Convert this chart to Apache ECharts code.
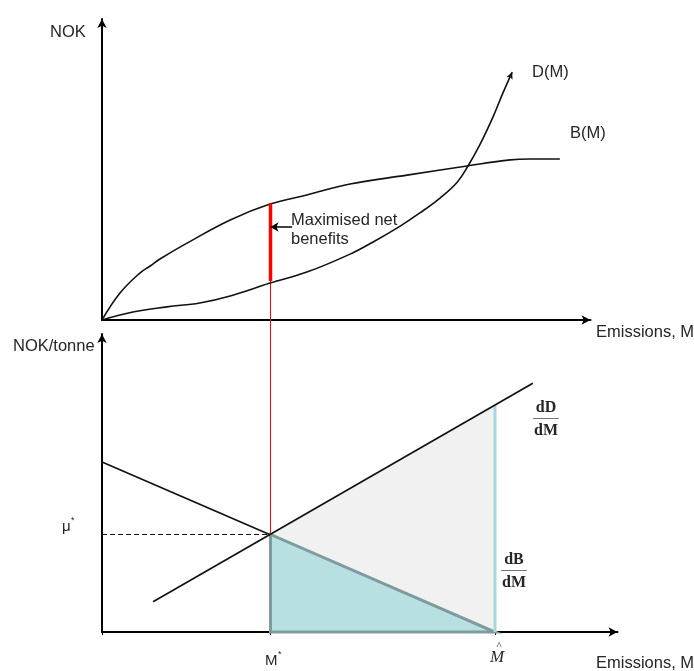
<!DOCTYPE html>
<html>
<head>
<meta charset="utf-8">
<script src="https://cdn.jsdelivr.net/npm/echarts@6/dist/echarts.min.js"></script>
<style>html,body{margin:0;padding:0;background:#fff;}#c{width:694px;height:671px;}</style>
</head>
<body>
<div id="c"></div>
<script>
// ---- data (x: emissions units, y: NOK units) ----
const benefitCurve = [[0,0],[3.7,8.9],[7.7,15.4],[9.8,17.7],[11.8,20.0],[17.3,25.2],[26.1,32.8],[34.2,38.0],[41.7,41.0],[50.5,44.6],[62.1,47.5],[74.3,50.5],[83.1,52.5],[87.1,52.8],[93.2,52.8]];
const damageCurve = [[0,0],[6.3,2.6],[13.2,4.3],[19.9,5.6],[26.1,7.9],[34.2,12.1],[41.7,15.7],[50.5,21.6],[55.2,25.6],[60.7,30.8],[64.7,35.1],[68.8,40.0],[72.3,45.2],[74.5,50.5],[76.9,57.4],[79.6,66.6],[81.6,74.4],[83.5,81.3]];
const mStar = 34.3;            // M*
const mHat = 80;               // M hat
const muStar = 32.3;           // mu*
const netBenefitTop = 38.2;    // red bar top (on B(M))
const netBenefitBottom = 12.8; // red bar bottom (near D(M))
const mbLine = [[0,56.3],[80,0]];        // dB/dM
const mdLine = [[10.4,10.0],[87.7,82.4]]; // dD/dM
const mdAtHat = 75.2;
const areaA = [[mStar,muStar],[mStar,0],[mHat,0]];
const areaB = [[mStar,muStar],[mHat,mdAtHat],[mHat,0]];
const arrowNote = [[38.7,30.5],[34.3,30.5]];
const upperGuideTop = 103.3;

// ---- layout ----
const PXX = 4.9125;
const topW = 488.5, botW = 515.5;
const YMAX = 98.7;
const SANS = '"Liberation Sans", Arial, sans-serif';
const SERIF = '"Liberation Serif", "Times New Roman", serif';
const TXT = '#262626';

function axisBase(extra) {
  return Object.assign({
    type: 'value', min: 0,
    axisLine: { show: true, onZero: false, symbol: ['none','arrow'], symbolSize: [7,9], lineStyle: { color: '#000', width: 2 } },
    axisTick: { show: false }, axisLabel: { show: false }, splitLine: { show: false }
  }, extra);
}

function polyRender(fill, stroke, lw) {
  return function (params, api) {
    if (params.dataIndex !== 0) return null;
    const pts = [];
    for (let i = 0; i < params.dataInsideLength; i++) {
      pts.push(api.coord([api.value(0, i), api.value(1, i)]));
    }
    return { type: 'polygon', shape: { points: pts }, style: { fill: fill, stroke: stroke || null, lineWidth: lw || 0, lineJoin: 'miter' } };
  };
}

const damageData = damageCurve.map(function (p, i) {
  if (i === damageCurve.length - 1) {
    return { value: p, symbol: 'arrow', symbolSize: [5, 7], symbolRotate: -23, itemStyle: { color: '#111' } };
  }
  return { value: p, symbol: 'none' };
});

const chart = echarts.init(document.getElementById('c'), null, { renderer: 'canvas' });
chart.setOption({
  animation: false,
  backgroundColor: '#fff',
  grid: [
    { left: 102, top: 19, width: topW, height: 301 },
    { left: 102, top: 334, width: botW, height: 298 }
  ],
  xAxis: [
    axisBase({ gridIndex: 0, max: topW / PXX }),
    axisBase({ gridIndex: 1, max: botW / PXX, axisTick: { show: true, customValues: [0, mStar, mHat], length: 3, inside: false, lineStyle: { color: '#000', width: 1 } } })
  ],
  yAxis: [
    axisBase({ gridIndex: 0, max: YMAX }),
    axisBase({ gridIndex: 1, max: YMAX })
  ],
  series: [
    // top panel
    { type: 'line', xAxisIndex: 0, yAxisIndex: 0, data: benefitCurve, smooth: 0.4, showSymbol: false, lineStyle: { color: '#111', width: 1.6 }, z: 3 },
    { type: 'line', xAxisIndex: 0, yAxisIndex: 0, data: damageData, smooth: 0.4, showSymbol: true, showAllSymbol: true, lineStyle: { color: '#111', width: 1.6 }, z: 3 },
    { type: 'line', xAxisIndex: 0, yAxisIndex: 0, data: [[mStar, netBenefitBottom],[mStar, 0]], showSymbol: false, lineStyle: { color: '#ff0000', width: 1 }, z: 2 },
    { type: 'line', xAxisIndex: 0, yAxisIndex: 0, data: [[mStar, netBenefitTop],[mStar, netBenefitBottom]], showSymbol: false, lineStyle: { color: '#ff0000', width: 3.5 }, z: 4,
      markLine: { silent: true, symbol: ['none','arrow'], symbolSize: [7,8], label: { show: false }, lineStyle: { color: '#000', width: 1.5, type: 'solid' },
        data: [[{ coord: arrowNote[0] }, { coord: arrowNote[1] }]] } },
    // bottom panel
    { type: 'line', xAxisIndex: 1, yAxisIndex: 1, data: [[mStar, muStar],[mStar, upperGuideTop]], clip: false, showSymbol: false, lineStyle: { color: '#ff0000', width: 1 }, z: 2 },
    { type: 'custom', xAxisIndex: 1, yAxisIndex: 1, data: areaB, renderItem: polyRender('#f1f1f1'), z: 1 },
    { type: 'line', xAxisIndex: 1, yAxisIndex: 1, data: mbLine, showSymbol: false, lineStyle: { color: '#111', width: 1.7 }, z: 2 },
    { type: 'custom', xAxisIndex: 1, yAxisIndex: 1, data: areaA, renderItem: polyRender('#b8dfe2', '#7e9c9e', 3), z: 3 },
    { type: 'line', xAxisIndex: 1, yAxisIndex: 1, data: [[mHat, 0],[mHat, mdAtHat]], showSymbol: false, lineStyle: { color: '#a7d6dd', width: 3 }, z: 4 },
    { type: 'line', xAxisIndex: 1, yAxisIndex: 1, data: mdLine, showSymbol: false, lineStyle: { color: '#111', width: 1.7 }, z: 5 },
    { type: 'line', xAxisIndex: 1, yAxisIndex: 1, data: [[0, muStar],[mStar, muStar]], showSymbol: false, lineStyle: { color: '#111', width: 1, type: [5,3] }, z: 5 }
  ],
  graphic: [
    { type: 'text', x: 50, y: 32, style: { text: 'NOK', font: '16.5px ' + SANS, fill: TXT, align: 'left', verticalAlign: 'middle' } },
    { type: 'text', x: 532, y: 72, style: { text: 'D(M)', font: '16.5px ' + SANS, fill: TXT, align: 'left', verticalAlign: 'middle' } },
    { type: 'text', x: 570, y: 133, style: { text: 'B(M)', font: '16.5px ' + SANS, fill: TXT, align: 'left', verticalAlign: 'middle' } },
    { type: 'text', x: 291, y: 220, style: { text: 'Maximised net', font: '16.5px ' + SANS, fill: TXT, align: 'left', verticalAlign: 'middle' } },
    { type: 'text', x: 291, y: 239, style: { text: 'benefits', font: '16.5px ' + SANS, fill: TXT, align: 'left', verticalAlign: 'middle' } },
    { type: 'text', x: 596, y: 332, style: { text: 'Emissions, M', font: '16.5px ' + SANS, fill: TXT, align: 'left', verticalAlign: 'middle' } },
    { type: 'text', x: 13, y: 346, style: { text: 'NOK/tonne', font: '16.5px ' + SANS, fill: TXT, align: 'left', verticalAlign: 'middle' } },
    { type: 'text', x: 62, y: 527, style: { text: 'μ', font: '15px ' + SANS, fill: TXT, align: 'left', verticalAlign: 'middle' } },
    { type: 'text', x: 71, y: 521, style: { text: '*', font: '9px ' + SANS, fill: TXT, align: 'left', verticalAlign: 'middle' } },
    { type: 'text', x: 395, y: 522, style: { text: 'B', font: '24px ' + SANS, fill: '#111', align: 'center', verticalAlign: 'middle' } },
    { type: 'text', x: 340, y: 603, style: { text: 'A', font: '24px ' + SANS, fill: '#111', align: 'center', verticalAlign: 'middle' } },
    { type: 'text', x: 546, y: 408, style: { text: 'dD', font: 'bold 16px ' + SERIF, fill: TXT, align: 'center', verticalAlign: 'middle' } },
    { type: 'line', shape: { x1: 533, y1: 418.5, x2: 559, y2: 418.5 }, style: { stroke: '#777', lineWidth: 1 } },
    { type: 'text', x: 546, y: 431, style: { text: 'dM', font: 'bold 16px ' + SERIF, fill: TXT, align: 'center', verticalAlign: 'middle' } },
    { type: 'text', x: 514, y: 560, style: { text: 'dB', font: 'bold 16px ' + SERIF, fill: TXT, align: 'center', verticalAlign: 'middle' } },
    { type: 'line', shape: { x1: 501, y1: 570.5, x2: 527, y2: 570.5 }, style: { stroke: '#777', lineWidth: 1 } },
    { type: 'text', x: 514, y: 583, style: { text: 'dM', font: 'bold 16px ' + SERIF, fill: TXT, align: 'center', verticalAlign: 'middle' } },
    { type: 'text', x: 265, y: 661, style: { text: 'M', font: '15px ' + SANS, fill: TXT, align: 'left', verticalAlign: 'middle' } },
    { type: 'text', x: 278, y: 655, style: { text: '*', font: '9px ' + SANS, fill: TXT, align: 'left', verticalAlign: 'middle' } },
    { type: 'text', x: 497, y: 658, style: { text: 'M', font: 'italic 17px ' + SERIF, fill: TXT, align: 'center', verticalAlign: 'middle' } },
    { type: 'text', x: 499, y: 646, style: { text: '^', font: '11px ' + SERIF, fill: TXT, align: 'center', verticalAlign: 'middle' } },
    { type: 'text', x: 596, y: 663, style: { text: 'Emissions, M', font: '16.5px ' + SANS, fill: TXT, align: 'left', verticalAlign: 'middle' } }
  ]
});
</script>
</body>
</html>
